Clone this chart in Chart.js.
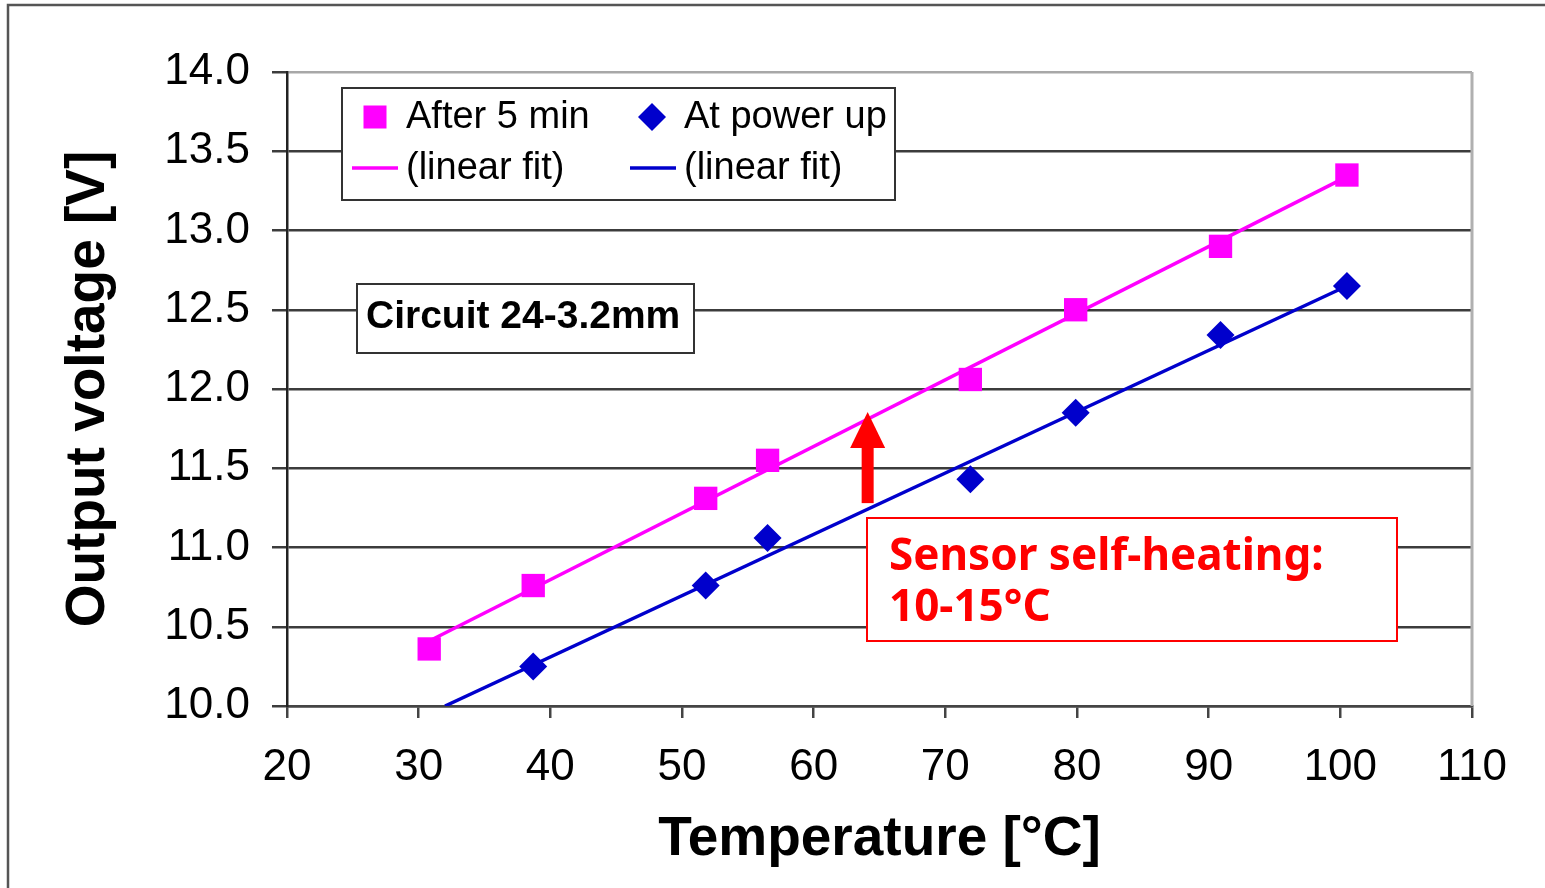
<!DOCTYPE html>
<html>
<head>
<meta charset="utf-8">
<title>Output voltage vs temperature</title>
<script src="https://cdn.jsdelivr.net/npm/chart.js@4.4.1/dist/chart.umd.min.js"></script>
<style>
  html, body { margin: 0; padding: 0; background: #fff; overflow: hidden; }
  canvas { display: block; }
</style>
</head>
<body>
<canvas id="chart" width="1545" height="888"></canvas>
<script>
const after5Temp = [30.8, 38.7, 51.8, 56.5, 71.9, 79.9, 90.9, 100.5];
const after5Volt = [10.36, 10.76, 11.31, 11.55, 12.06, 12.50, 12.90, 13.35];
const powerUpTemp = [38.7, 51.8, 56.5, 71.9, 79.9, 90.9, 100.5];
const powerUpVolt = [10.25, 10.76, 11.06, 11.43, 11.85, 12.34, 12.65];

// linear fit end points (also)
const after5FitTemp = [30.8, 100.5];
const after5FitVolt = [10.41, 13.34];
const powerUpFitTemp = [32.0, 100.5];
const powerUpFitVolt = [10.0, 12.65];

// self-heating arrow: temperature, voltage from -> to
const arrowTemp = 64.1;
const arrowVolt = [11.28, 11.855];

const xTicks = [20, 30, 40, 50, 60, 70, 80, 90, 100, 110];
const yTicks = [10.0, 10.5, 11.0, 11.5, 12.0, 12.5, 13.0, 13.5, 14.0];

const pink = '#ff00ff';
const blue = '#0000cc';
const red = '#ff0000';
const sans = "'Liberation Sans', Arial, sans-serif";

Chart.defaults.font.family = sans;
Chart.defaults.color = '#000';

function toPoints(xs, ys) {
  return xs.map((x, i) => ({ x: x, y: ys[i] }));
}

function boxRect(ctx, x, y, w, h, color, lw) {
  ctx.fillStyle = '#fff';
  ctx.fillRect(x, y, w, h);
  ctx.strokeStyle = color;
  ctx.lineWidth = lw;
  ctx.strokeRect(x, y, w, h);
}

const decorations = {
  id: 'decorations',
  beforeDraw(chart) {
    const ctx = chart.ctx;
    ctx.save();
    ctx.fillStyle = '#fff';
    ctx.fillRect(0, 0, chart.width, chart.height);
    // outer frame (runs off the right and bottom)
    ctx.strokeStyle = '#555';
    ctx.lineWidth = 2.5;
    ctx.beginPath();
    ctx.moveTo(8, chart.height);
    ctx.lineTo(8, 5);
    ctx.lineTo(chart.width, 5);
    ctx.stroke();
    ctx.restore();
  },
  beforeDatasetsDraw(chart) {
    const { ctx, chartArea } = chart;
    ctx.save();
    ctx.strokeStyle = '#b0b0b0';
    ctx.lineWidth = 3;
    ctx.beginPath();
    ctx.moveTo(chartArea.right, chartArea.top);
    ctx.lineTo(chartArea.right, chartArea.bottom);
    ctx.stroke();
    ctx.restore();
  },
  afterDatasetsDraw(chart) {
    const ctx = chart.ctx;
    const xs = chart.scales.x;
    const ys = chart.scales.y;
    ctx.save();

    // legend
    boxRect(ctx, 342, 88, 553, 112, '#333', 2);
    ctx.textBaseline = 'middle';
    ctx.textAlign = 'left';
    ctx.font = '38px ' + sans;
    ctx.fillStyle = pink;
    ctx.fillRect(363.5, 105.5, 23, 23);
    ctx.fillStyle = blue;
    ctx.beginPath();
    ctx.moveTo(652, 103);
    ctx.lineTo(666, 117);
    ctx.lineTo(652, 131);
    ctx.lineTo(638, 117);
    ctx.closePath();
    ctx.fill();
    ctx.lineWidth = 3.5;
    ctx.strokeStyle = pink;
    ctx.beginPath(); ctx.moveTo(352, 168); ctx.lineTo(398, 168); ctx.stroke();
    ctx.strokeStyle = blue;
    ctx.beginPath(); ctx.moveTo(630, 168); ctx.lineTo(676, 168); ctx.stroke();
    ctx.fillStyle = '#000';
    ctx.fillText('After 5 min', 406, 118);
    ctx.fillText('At power up', 684, 118);
    ctx.fillText('(linear fit)', 406, 169);
    ctx.fillText('(linear fit)', 684, 169);

    // circuit label
    boxRect(ctx, 357, 284, 337, 69, '#333', 2);
    ctx.fillStyle = '#000';
    ctx.font = 'bold 39px ' + sans;
    ctx.fillText('Circuit 24-3.2mm', 366, 317);

    // self-heating note
    boxRect(ctx, 867, 518, 530, 123, red, 2);
    ctx.fillStyle = red;
    ctx.font = "bold 44px 'Noto Sans', sans-serif";
    ctx.fillText('Sensor self-heating:', 889, 557);
    ctx.fillText('10-15\u00B0C', 889, 608);

    // arrow
    const ax = xs.getPixelForValue(arrowTemp);
    const yBase = ys.getPixelForValue(arrowVolt[0]);
    const yTip = ys.getPixelForValue(arrowVolt[1]);
    const headLen = 36;
    ctx.fillRect(ax - 6, yTip + headLen - 1, 12, yBase - yTip - headLen + 1);
    ctx.beginPath();
    ctx.moveTo(ax, yTip);
    ctx.lineTo(ax + 17.5, yTip + headLen);
    ctx.lineTo(ax - 17.5, yTip + headLen);
    ctx.closePath();
    ctx.fill();

    ctx.restore();
  }
};

new Chart(document.getElementById('chart'), {
  type: 'scatter',
  data: {
    datasets: [
      {
        label: 'After 5 min',
        data: toPoints(after5Temp, after5Volt),
        showLine: false,
        pointStyle: 'rect',
        pointRadius: 16.5,
        pointBorderWidth: 0,
        backgroundColor: pink,
        borderColor: pink
      },
      {
        label: 'At power up',
        data: toPoints(powerUpTemp, powerUpVolt),
        showLine: false,
        pointStyle: 'rectRot',
        pointRadius: 14,
        pointBorderWidth: 0,
        backgroundColor: blue,
        borderColor: blue
      },
      {
        label: 'After 5 min (linear fit)',
        data: toPoints(after5FitTemp, after5FitVolt),
        showLine: true,
        pointRadius: 0,
        borderColor: pink,
        borderWidth: 3.5
      },
      {
        label: 'At power up (linear fit)',
        data: toPoints(powerUpFitTemp, powerUpFitVolt),
        showLine: true,
        pointRadius: 0,
        borderColor: blue,
        borderWidth: 3.5
      }
    ]
  },
  options: {
    responsive: false,
    animation: false,
    devicePixelRatio: 1,
    layout: { padding: { left: 0, top: 72, right: 73, bottom: 0 } },
    plugins: {
      legend: { display: false },
      tooltip: { enabled: false }
    },
    scales: {
      x: {
        type: 'linear',
        min: 20,
        max: 110,
        afterBuildTicks: s => { s.ticks = xTicks.map(v => ({ value: v })); },
        afterFit: s => { s.height = 182; },
        ticks: { font: { size: 44 }, color: '#000', padding: 23 },
        grid: { drawOnChartArea: false, tickLength: 12, tickColor: '#444', lineWidth: 2.5 },
        border: { color: '#444', width: 2.5 },
        title: {
          display: true,
          text: 'Temperature [\u00B0C]',
          font: { size: 55, weight: 'bold' },
          color: '#000',
          padding: { top: 0, bottom: 15 }
        }
      },
      y: {
        type: 'linear',
        min: 10,
        max: 14,
        afterBuildTicks: s => { s.ticks = yTicks.map(v => ({ value: v })); },
        afterFit: s => { s.width = 287; },
        ticks: {
          font: { size: 44 },
          color: '#000',
          padding: 22,
          callback: v => Number(v).toFixed(1)
        },
        grid: {
          color: c => (c.tick && c.tick.value === 14 ? '#a8a8a8' : '#3c3c3c'),
          lineWidth: 2.5,
          tickLength: 15,
          tickColor: '#3c3c3c'
        },
        border: { color: '#222', width: 2.5 },
        title: {
          display: true,
          text: 'Output voltage [V]',
          font: { size: 55, weight: 'bold' },
          color: '#000',
          padding: { top: 56, bottom: 0 }
        }
      }
    }
  },
  plugins: [decorations]
});
</script>
</body>
</html>
